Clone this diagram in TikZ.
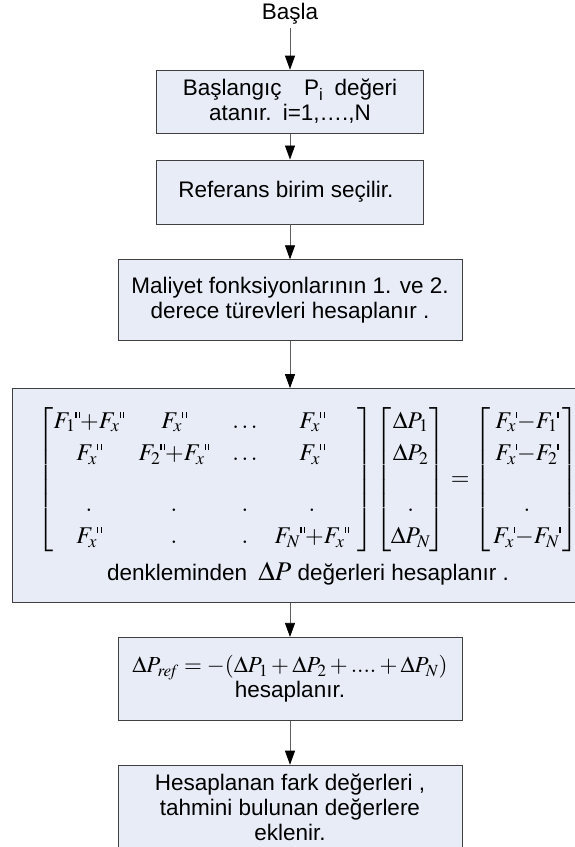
\documentclass[tikz,border=0pt]{standalone}
\usepackage{mathptmx}
\usepackage[no-math]{fontspec}
\setmainfont{Liberation Sans}
\usetikzlibrary{arrows.meta, positioning}
\definecolor{BoxFill}{HTML}{E7ECF6}
\definecolor{BoxLine}{HTML}{404040}
\definecolor{ArrowGray}{HTML}{606060}
\newcommand{\dpr}{\rule[0.44em]{0.05em}{0.24em}\kern0.1em\rule[0.44em]{0.05em}{0.24em}}
\newcommand{\spr}{\rule[0.44em]{0.05em}{0.24em}}
\newcommand{\cel}[2]{\makebox[#1]{$#2$}}
\tikzset{
  box/.style={draw=BoxLine, line width=0.8pt, fill=BoxFill, align=center, inner sep=3pt, font=\fontsize{22.5}{25}\selectfont},
  arrow/.style={-{Triangle[length=14pt, width=10pt, color=black]}, line width=0.8pt, draw=ArrowGray}
}
\begin{document}
\begin{tikzpicture}
\useasboundingbox (0,0) rectangle (575pt,-847pt);
\node[font=\fontsize{22.5}{25}\selectfont, inner sep=3pt] (start) at (290pt,-14pt) {Başla};
\node[box, below=42pt of start, minimum width=267pt, minimum height=63pt] (init) {
Başlangıç\quad P\textsubscript{i}\enspace değeri\\
atanır.\enspace i=1,….,N
};
\node[box, below=26pt of init, minimum width=267pt, minimum height=64pt] (ref) {
Referans birim seçilir.
};
\node[box, below=35pt of ref, minimum width=344pt, minimum height=81pt] (deriv) {
Maliyet fonksiyonlarının 1. ve 2.\\
derece türevleri hesaplanır .
};
\node[box, below=47pt of deriv, xshift=18pt, minimum width=592pt, minimum height=214pt] (sys) {
{\fontsize{24}{26}\selectfont\arraycolsep=0pt\renewcommand{\arraystretch}{1.25}%
$\left[\begin{array}{cccc}
\cel{72pt}{F_1\dpr{+}F_x\dpr} & \cel{98pt}{F_x\dpr} & \cel{44pt}{\ldots} & \cel{90pt}{F_x\dpr}\\
\cel{72pt}{F_x\dpr} & \cel{98pt}{F_2\dpr{+}F_x\dpr} & \cel{44pt}{\ldots} & \cel{90pt}{F_x\dpr}\\[18pt]
\cel{72pt}{.} & \cel{98pt}{.} & \cel{44pt}{.} & \cel{90pt}{.}\\
\cel{72pt}{F_x\dpr} & \cel{98pt}{.} & \cel{44pt}{.} & \cel{90pt}{F_N\dpr{+}F_x\dpr}
\end{array}\right]
\left[\begin{array}{c}
\cel{38pt}{\Delta P_1}\\
\cel{38pt}{\Delta P_2}\\[18pt]
\cel{38pt}{.}\\
\cel{38pt}{\Delta P_N}
\end{array}\right]
=
\left[\begin{array}{c}
\cel{72pt}{F_x\spr{-}F_1\spr}\\
\cel{72pt}{F_x\spr{-}F_2\spr}\\[18pt]
\cel{72pt}{.}\\
\cel{72pt}{F_x\spr{-}F_N\spr}
\end{array}\right]$}\\[8pt]
denkleminden\enspace{\fontsize{27}{27}\selectfont$\Delta P$} değerleri hesaplanır .
};
\node[box, below=34pt of sys, xshift=-18pt, minimum width=344pt, minimum height=83pt] (res) {
{\fontsize{23}{26}\selectfont$\Delta P_{\mathit{ref}} = -(\Delta P_1 + \Delta P_2 + .... + \Delta P_N)$}\\
hesaplanır.
};
\node[box, below=44pt of res, minimum width=344pt, minimum height=84pt] (add) {
Hesaplanan fark değerleri ,\\
tahmini bulunan değerlere\\
eklenir.
};
\draw[arrow] (start) -- (init);
\draw[arrow] (init) -- (ref);
\draw[arrow] (ref) -- (deriv);
\draw[arrow] (deriv) -- (deriv |- sys.north);
\draw[arrow] (sys.south -| res) -- (res);
\draw[arrow] (res) -- (add);
\end{tikzpicture}
\end{document}
